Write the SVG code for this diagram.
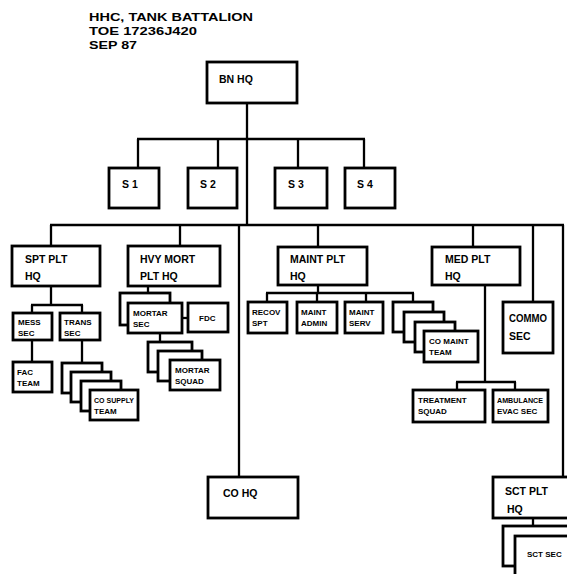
<svg xmlns="http://www.w3.org/2000/svg" width="567" height="574" viewBox="0 0 567 574">
<style>
rect{fill:#fff;stroke:#000;stroke-width:2.8}
.c line{stroke:#000;stroke-width:2.3}
text{font-family:"Liberation Sans",Arial,sans-serif;font-weight:bold;fill:#000}
.t{font-size:11.5px}
.b{font-size:10.5px}
.s{font-size:8px}
</style>
<rect x="0" y="0" width="567" height="574" style="stroke:none"/>
<g id="title">
<text class="t" x="89" y="21" textLength="164" lengthAdjust="spacingAndGlyphs">HHC, TANK BATTALION</text>
<text class="t" x="89" y="35" textLength="108" lengthAdjust="spacingAndGlyphs">TOE 17236J420</text>
<text class="t" x="89" y="49" textLength="48" lengthAdjust="spacingAndGlyphs">SEP 87</text>
</g>
<g class="c" id="connectors">
<line x1="247" y1="103" x2="247" y2="225"/>
<line x1="137" y1="139" x2="365" y2="139"/>
<line x1="138" y1="139" x2="138" y2="168"/>
<line x1="218" y1="139" x2="218" y2="168"/>
<line x1="298" y1="139" x2="298" y2="168"/>
<line x1="364" y1="139" x2="364" y2="168"/>
<line x1="50" y1="225" x2="564" y2="225"/>
<line x1="51" y1="225" x2="51" y2="246"/>
<line x1="180" y1="225" x2="180" y2="246"/>
<line x1="239" y1="225" x2="239" y2="477"/>
<line x1="318" y1="225" x2="318" y2="247"/>
<line x1="473" y1="225" x2="473" y2="247"/>
<line x1="533" y1="225" x2="533" y2="302"/>
<line x1="563" y1="225" x2="563" y2="477"/>
<line x1="51" y1="286" x2="51" y2="305"/>
<line x1="31" y1="305" x2="83" y2="305"/>
<line x1="32" y1="305" x2="32" y2="313"/>
<line x1="82" y1="305" x2="82" y2="313"/>
<line x1="32" y1="340" x2="32" y2="362"/>
<line x1="82" y1="340" x2="82" y2="363"/>
<line x1="148" y1="286" x2="148" y2="293"/>
<line x1="182" y1="318" x2="188" y2="318"/>
<line x1="160" y1="333" x2="160" y2="342"/>
<line x1="318" y1="285" x2="318" y2="293"/>
<line x1="266" y1="293" x2="414" y2="293"/>
<line x1="267" y1="293" x2="267" y2="302"/>
<line x1="317" y1="293" x2="317" y2="302"/>
<line x1="366" y1="293" x2="366" y2="302"/>
<line x1="413" y1="293" x2="413" y2="302"/>
<line x1="485" y1="285" x2="485" y2="382"/>
<line x1="456" y1="382" x2="516" y2="382"/>
<line x1="457" y1="382" x2="457" y2="390"/>
<line x1="515" y1="382" x2="515" y2="390"/>
<line x1="533" y1="518" x2="533" y2="526"/>
</g>
<g id="bnhq"><rect x="207" y="62" width="90" height="41"/><text class="b" x="219" y="83">BN HQ</text></g>
<g id="s1"><rect x="109" y="168" width="50" height="40"/><text class="b" x="122" y="188">S 1</text></g>
<g id="s2"><rect x="188" y="168" width="49" height="40"/><text class="b" x="200" y="188">S 2</text></g>
<g id="s3"><rect x="275" y="168" width="52" height="40"/><text class="b" x="288" y="188">S 3</text></g>
<g id="s4"><rect x="345" y="168" width="50" height="40"/><text class="b" x="357" y="188">S 4</text></g>
<g id="sptplthq"><rect x="12" y="246" width="88" height="40"/><text class="b" x="25" y="263">SPT PLT</text><text class="b" x="25" y="280">HQ</text></g>
<g id="hvymortplthq"><rect x="128" y="246" width="92" height="40"/><text class="b" x="140" y="263">HVY MORT</text><text class="b" x="140" y="280">PLT HQ</text></g>
<g id="maintplthq"><rect x="278" y="247" width="89" height="38"/><text class="b" x="290" y="263">MAINT PLT</text><text class="b" x="290" y="280">HQ</text></g>
<g id="medplthq"><rect x="432" y="247" width="88" height="38"/><text class="b" x="445" y="263">MED PLT</text><text class="b" x="445" y="280">HQ</text></g>
<g id="messsec"><rect x="13" y="313" width="39" height="27"/><text class="s" x="18" y="325">MESS</text><text class="s" x="18" y="336">SEC</text></g>
<g id="transsec"><rect x="60" y="313" width="40" height="27"/><text class="s" x="64" y="325">TRANS</text><text class="s" x="64" y="336">SEC</text></g>
<g id="facteam"><rect x="13" y="362" width="39" height="30"/><text class="s" x="17" y="375">FAC</text><text class="s" x="17" y="386">TEAM</text></g>
<g id="cosupplyteam">
<rect x="62" y="363" width="40" height="30"/>
<rect x="71" y="372" width="40" height="30"/>
<rect x="81" y="381" width="40" height="30"/>
<rect x="90" y="390" width="48" height="30"/>
<text class="s" x="94" y="403" textLength="40" lengthAdjust="spacingAndGlyphs">CO SUPPLY</text><text class="s" x="94" y="414">TEAM</text>
</g>
<g id="mortarsec">
<rect x="120" y="293" width="50" height="32"/>
<rect x="128" y="303" width="54" height="30"/>
<text class="s" x="133" y="316">MORTAR</text><text class="s" x="133" y="327">SEC</text>
</g>
<g id="fdc"><rect x="188" y="303" width="40" height="29"/><text class="s" x="199" y="321">FDC</text></g>
<g id="mortarsquad">
<rect x="148" y="342" width="44" height="30"/>
<rect x="158" y="351" width="44" height="30"/>
<rect x="170" y="360" width="50" height="30"/>
<text class="s" x="175" y="373">MORTAR</text><text class="s" x="175" y="384">SQUAD</text>
</g>
<g id="recovspt"><rect x="248" y="302" width="39" height="31"/><text class="s" x="252" y="315">RECOV</text><text class="s" x="252" y="326">SPT</text></g>
<g id="maintadmin"><rect x="297" y="302" width="40" height="31"/><text class="s" x="301" y="315">MAINT</text><text class="s" x="301" y="326">ADMIN</text></g>
<g id="maintserv"><rect x="345" y="302" width="38" height="31"/><text class="s" x="349" y="315">MAINT</text><text class="s" x="349" y="326">SERV</text></g>
<g id="comaintteam">
<rect x="393" y="302" width="40" height="30"/>
<rect x="404" y="312" width="40" height="30"/>
<rect x="415" y="322" width="40" height="30"/>
<rect x="424" y="331" width="54" height="31"/>
<text class="s" x="429" y="344">CO MAINT</text><text class="s" x="429" y="355">TEAM</text>
</g>
<g id="commosec"><rect x="503" y="302" width="50" height="51"/><text class="b" x="509" y="322" textLength="38" lengthAdjust="spacingAndGlyphs">COMMO</text><text class="b" x="509" y="340">SEC</text></g>
<g id="treatmentsquad"><rect x="413" y="390" width="72" height="32"/><text class="s" x="418" y="403">TREATMENT</text><text class="s" x="418" y="414">SQUAD</text></g>
<g id="evacsec"><rect x="493" y="390" width="55" height="32"/><text class="s" x="497" y="403" textLength="46" lengthAdjust="spacingAndGlyphs">AMBULANCE</text><text class="s" x="497" y="414">EVAC SEC</text></g>
<g id="cohq"><rect x="208" y="477" width="90" height="41"/><text class="b" x="223" y="497">CO HQ</text></g>
<g id="sctplthq"><rect x="493" y="477" width="90" height="41"/><text class="b" x="505" y="495">SCT PLT</text><text class="b" x="507" y="513">HQ</text></g>
<g id="sctsec">
<rect x="503" y="526" width="70" height="40"/>
<rect x="515" y="536" width="70" height="40"/>
<text class="s" x="527" y="557">SCT SEC</text>
</g>
</svg>
